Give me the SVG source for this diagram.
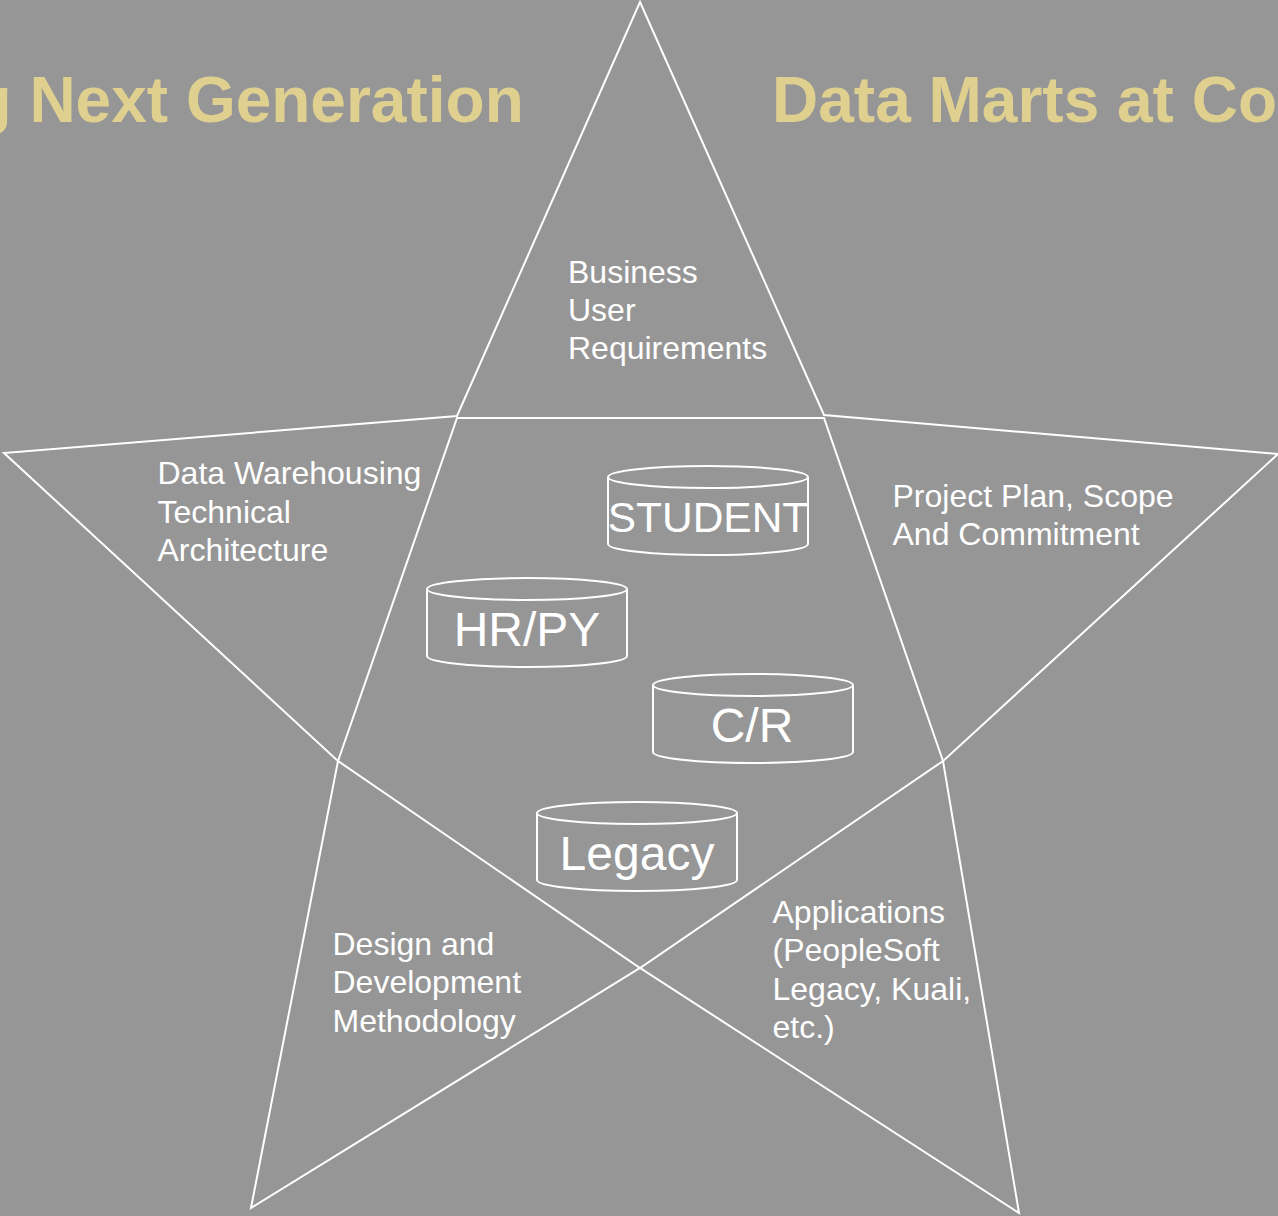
<svg xmlns="http://www.w3.org/2000/svg" width="1278" height="1216" viewBox="0 0 1278 1216">
<style>
text{font-family:"Liberation Sans",Arial,sans-serif;fill:#fff}
.t{font-size:32px}
.c{font-size:48px;text-anchor:middle}
.h{font-size:64px;font-weight:bold;fill:#e0d090}
.l{fill:none;stroke:#fff;stroke-width:2}
</style>
<defs>
<g id="cyl"><path class="l" d="M0 11A100 11 0 0 1 200 11V78A100 11 0 0 1 0 78Z"/><path class="l" d="M0 11A100 11 0 0 0 200 11"/></g>
</defs>
<rect width="1278" height="1216" fill="#969696"/>
<g id="title"><text class="h" x="-27.500" y="122">g Next Generation</text><text class="h" x="772" y="122">Data Marts at Co</text></g>
<g id="connectors">
<path class="l" d="M640 2L824 415L1278 454L943 761L1019 1213L640 968L251 1208L338 761L4 453L457 416Z"/>
<path class="l" d="M457 418H824L943 761L640 968L338 761Z"/>
</g>
<g id="business"><text class="t" x="568" y="283">Business</text><text class="t" x="568" y="321">User</text><text class="t" x="568" y="359">Requirements</text></g>
<g id="architecture"><text class="t" x="157.500" y="484">Data Warehousing</text><text class="t" x="157.500" y="523">Technical</text><text class="t" x="157.500" y="561">Architecture</text></g>
<g id="plan"><text class="t" x="892.500" y="507">Project Plan, Scope</text><text class="t" x="892.500" y="545">And Commitment</text></g>
<g id="method"><text class="t" x="332.500" y="955">Design and</text><text class="t" x="332.500" y="993">Development</text><text class="t" x="332.500" y="1032">Methodology</text></g>
<g id="apps"><text class="t" x="772.500" y="923">Applications</text><text class="t" x="772.500" y="961">(PeopleSoft</text><text class="t" x="772.500" y="1000">Legacy, Kuali,</text><text class="t" x="772.500" y="1038">etc.)</text></g>
<g id="student"><use href="#cyl" x="608" y="466"/><text class="c" style="font-size:42.500px" x="708" y="531.500">STUDENT</text></g>
<g id="hrpy"><use href="#cyl" x="427" y="578"/><text class="c" x="527" y="646">HR/PY</text></g>
<g id="cr"><use href="#cyl" x="653" y="674"/><text class="c" x="752" y="742">C/R</text></g>
<g id="legacy"><use href="#cyl" x="537" y="802"/><text class="c" x="637" y="870">Legacy</text></g>
</svg>
